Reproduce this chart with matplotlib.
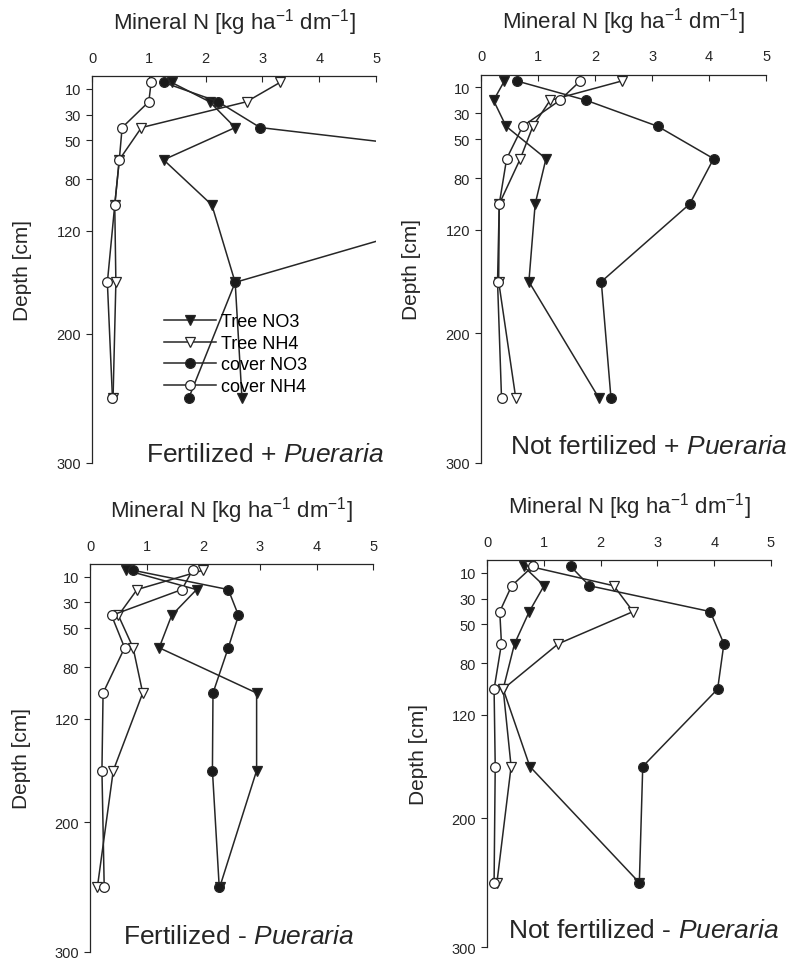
import matplotlib
matplotlib.use('Agg')
import matplotlib.pyplot as plt

plt.rcParams['font.family'] = ['Liberation Sans', 'DejaVu Sans']
plt.rcParams['mathtext.fontset'] = 'custom'
plt.rcParams['mathtext.rm'] = 'Liberation Sans'
plt.rcParams['mathtext.it'] = 'Liberation Sans:italic'

# soil layer mid-depths [cm]
depth = [5, 20, 40, 65, 100, 160, 250]
depth_ticks = [10, 30, 50, 80, 120, 200, 300]
x_ticks = [0, 1, 2, 3, 4, 5]

# Mineral N [kg ha-1 dm-1] per panel
# Fertilized + Pueraria
fp_tree_no3 = [1.40, 2.07, 2.52, 1.26, 2.11, 2.52, 2.64]
fp_tree_nh4 = [3.31, 2.72, 0.87, 0.48, 0.40, 0.42, 0.37]
fp_cover_no3 = [1.26, 2.22, 2.96, 7.8, 7.2, 2.52, 1.70]
fp_cover_nh4 = [1.04, 1.00, 0.53, 0.48, 0.40, 0.27, 0.36]

# Not fertilized + Pueraria
np_tree_no3 = [0.41, 0.22, 0.44, 1.14, 0.95, 0.84, 2.07]
np_tree_nh4 = [2.47, 1.21, 0.91, 0.69, 0.32, 0.31, 0.61]
np_cover_no3 = [0.63, 1.85, 3.10, 4.08, 3.66, 2.11, 2.28]
np_cover_nh4 = [1.74, 1.38, 0.73, 0.45, 0.32, 0.29, 0.36]

# Fertilized - Pueraria
fm_tree_no3 = [0.63, 1.88, 1.44, 1.22, 2.94, 2.94, 2.29]
fm_tree_nh4 = [2.00, 0.83, 0.50, 0.76, 0.93, 0.41, 0.13]
fm_cover_no3 = [0.75, 2.44, 2.62, 2.44, 2.17, 2.16, 2.28]
fm_cover_nh4 = [1.81, 1.62, 0.38, 0.61, 0.23, 0.21, 0.25]

# Not fertilized - Pueraria
nm_tree_no3 = [0.64, 1.00, 0.74, 0.48, 0.28, 0.75, 2.68]
nm_tree_nh4 = [0.75, 2.23, 2.57, 1.25, 0.28, 0.42, 0.17]
nm_cover_no3 = [1.47, 1.80, 3.93, 4.17, 4.06, 2.74, 2.68]
nm_cover_nh4 = [0.80, 0.43, 0.22, 0.25, 0.12, 0.14, 0.12]

series_labels = ['Tree NO3', 'Tree NH4', 'cover NO3', 'cover NH4']
markers = ['v', 'v', 'o', 'o']
faces = ['#1a1a1a', 'white', '#1a1a1a', 'white']

panels = [
    ([fp_tree_no3, fp_tree_nh4, fp_cover_no3, fp_cover_nh4], 'Fertilized + ', (3.05, 293)),
    ([np_tree_no3, np_tree_nh4, np_cover_no3, np_cover_nh4], 'Not fertilized + ', (2.94, 287)),
    ([fm_tree_no3, fm_tree_nh4, fm_cover_no3, fm_cover_nh4], 'Fertilized - ', (2.63, 288)),
    ([nm_tree_no3, nm_tree_nh4, nm_cover_no3, nm_cover_nh4], 'Not fertilized - ', (2.76, 287)),
]

# axes boxes in figure fractions (left, bottom, width, height)
boxes = [
    (0.1159, 0.5177, 0.3577, 0.4023),
    (0.6058, 0.5177, 0.3590, 0.4038),
    (0.1134, 0.0097, 0.3568, 0.4033),
    (0.6137, 0.0143, 0.3573, 0.4026),
]

ink = '#262626'
fig = plt.figure(figsize=(7.94, 9.62), dpi=100)

for i, (data, name, pos) in enumerate(panels):
    ax = fig.add_axes(boxes[i])
    for vals, lab, mk, fc in zip(data, series_labels, markers, faces):
        ax.plot(vals, depth, color=ink, lw=1.1, marker=mk, ms=7.5 if mk == 'v' else 7,
                mfc=fc, mec=ink, mew=0.9, label=lab)

    ax.set_xlim(0, 5)
    ax.set_ylim(300, 0)
    ax.set_xticks(x_ticks)
    ax.set_yticks(depth_ticks)
    ax.xaxis.tick_top()
    ax.xaxis.set_label_position('top')
    ax.spines['right'].set_visible(False)
    ax.spines['bottom'].set_visible(False)
    for s in ['left', 'top']:
        ax.spines[s].set_color(ink)
        ax.spines[s].set_linewidth(0.9)
    ax.tick_params(axis='x', direction='in', length=4, labelsize=10.5, colors=ink, pad=8)
    ax.tick_params(axis='y', direction='out', length=4, labelsize=10.5, colors=ink, pad=4)

    ax.set_xlabel('Mineral N [kg ha$^{-1}$ dm$^{-1}$]', fontsize=16, color=ink, labelpad=16)
    ax.set_ylabel('Depth [cm]', fontsize=15, color=ink)
    ax.yaxis.set_label_coords(-0.21, 0.5)

    ax.text(pos[0], pos[1], name + r'$\mathit{Pueraria}$', fontsize=19, color=ink,
            ha='center', va='center', clip_on=False)

    if i == 0:
        ax.legend(loc='upper left', bbox_to_anchor=(0.22, 0.41), frameon=False,
                  fontsize=13, handlelength=2.9, handletextpad=0.3,
                  labelspacing=0.25, borderpad=0)

fig.savefig('out.png', dpi=100)
